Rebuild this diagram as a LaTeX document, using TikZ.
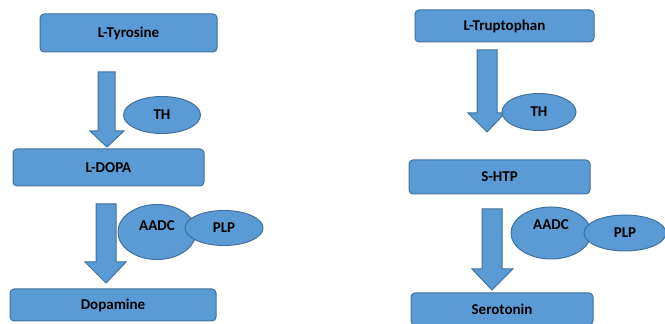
\documentclass[tikz,border=0pt]{standalone}
\usepackage{fontspec}
\setmainfont{Carlito}
\usetikzlibrary{shapes.geometric}
\definecolor{fillb}{HTML}{5B9BD5}
\definecolor{lineb}{HTML}{41719C}
\begin{document}
\begin{tikzpicture}[x=0.75pt,y=-0.75pt,
  box/.style={rectangle, rounded corners=3pt, fill=fillb, draw=lineb, line width=0.75pt, inner sep=0pt,
    font=\fontsize{11.25}{13}\selectfont\bfseries},
  enz/.style={ellipse, fill=fillb, draw=lineb, line width=0.75pt, inner sep=0pt,
    font=\fontsize{11.25}{13}\selectfont\bfseries},
  blockarrow/.style={fill=fillb, draw=lineb, line width=0.75pt, line join=miter}]
\clip (0,0) rectangle (665,324);
\useasboundingbox (0,0) rectangle (665,324);
% left pathway
\node[box, minimum width=132.75pt, minimum height=28.5pt] (tyr) at (128.5,33) {L-Tyrosine};
\node[box, minimum width=143.25pt, minimum height=27.75pt] (dopa) at (108.5,167.5) {L-DOPA};
\node[box, minimum width=154.5pt, minimum height=24pt] (dopamine) at (113,305) {Dopamine};
\draw[blockarrow] (98,72) -- (115,72) -- (115,131) -- (124,131) -- (107,147) -- (90,131) -- (98,131) -- cycle;
\draw[blockarrow] (96,204) -- (116,204) -- (116,262) -- (126,262) -- (106,283) -- (85,262) -- (96,262) -- cycle;
\node[enz, minimum width=57.75pt, minimum height=27.75pt] (th1) at (162,115) {TH};
\node[enz, minimum width=58.5pt, minimum height=41.25pt] (aadc1) at (157,232) {};
\node at ([yshift=4.5pt]aadc1.center) [font=\fontsize{11.25}{13}\selectfont\bfseries] (aadc1t) {AADC};
\node[enz, minimum width=58.5pt, minimum height=26.25pt] (plp1) at (224,228) {PLP};
% right pathway
\node[box, minimum width=134.25pt, minimum height=24pt] (trp) at (504.5,26) {L-Truptophan};
\node[box, minimum width=135.75pt, minimum height=25.5pt] (htp) at (499.5,177) {S-HTP};
\node[box, minimum width=136.5pt, minimum height=24pt] (sero) at (502,309) {Serotonin};
\draw[blockarrow] (477,50) -- (497,50) -- (497,113) -- (505,113) -- (487,132) -- (468,113) -- (477,113) -- cycle;
\draw[blockarrow] (482,209) -- (502,209) -- (502,269) -- (513,269) -- (492,290) -- (472,269) -- (482,269) -- cycle;
\node[enz, minimum width=55.5pt, minimum height=27.75pt] (th2) at (539,112) {TH};
\node[enz, minimum width=60pt, minimum height=39pt] (aadc2) at (551,233) {};
\node at ([yshift=6pt]aadc2.center) [font=\fontsize{11.25}{13}\selectfont\bfseries] (aadc2t) {AADC};
\node[enz, minimum width=61.5pt, minimum height=27pt] (plp2) at (625,233) {PLP};
\end{tikzpicture}
\end{document}
